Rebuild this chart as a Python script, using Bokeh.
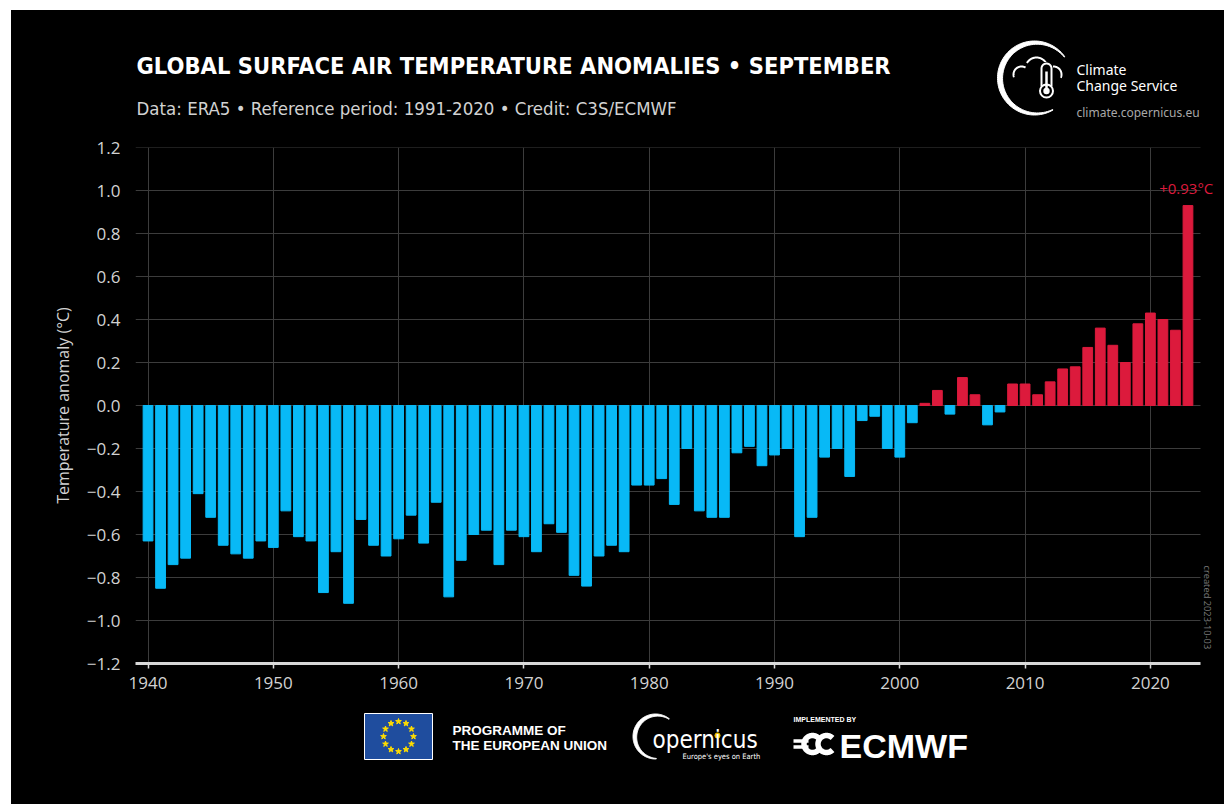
import numpy as np
from bokeh.plotting import figure
from bokeh.models import (Range1d, Label, FixedTicker, CustomJSTickFormatter,
                          Spacer, ColumnDataSource)
from bokeh.layouts import column, row
from bokeh.embed import file_html
from bokeh.resources import INLINE

# ---------------- data ----------------
years = list(range(1940, 2024))
anomalies = [
    -0.63, -0.85, -0.74, -0.71, -0.41, -0.52, -0.65, -0.69, -0.71, -0.63,   # 1940s
    -0.66, -0.49, -0.61, -0.63, -0.87, -0.68, -0.92, -0.53, -0.65, -0.70,   # 1950s
    -0.62, -0.51, -0.64, -0.45, -0.89, -0.72, -0.60, -0.58, -0.74, -0.58,   # 1960s
    -0.61, -0.68, -0.55, -0.59, -0.79, -0.84, -0.70, -0.65, -0.68, -0.37,   # 1970s
    -0.37, -0.34, -0.46, -0.20, -0.49, -0.52, -0.52, -0.22, -0.19, -0.28,   # 1980s
    -0.23, -0.20, -0.61, -0.52, -0.24, -0.20, -0.33, -0.07, -0.05, -0.20,   # 1990s
    -0.24, -0.08, 0.01, 0.07, -0.04, 0.13, 0.05, -0.09, -0.03, 0.10,        # 2000s
    0.10, 0.05, 0.11, 0.17, 0.18, 0.27, 0.36, 0.28, 0.20, 0.38,             # 2010s
    0.43, 0.40, 0.35, 0.93,                                                 # 2020s
]
x_ticks = [1940, 1950, 1960, 1970, 1980, 1990, 2000, 2010, 2020]
y_ticks = [-1.2, -1.0, -0.8, -0.6, -0.4, -0.2, 0.0, 0.2, 0.4, 0.6, 0.8, 1.0, 1.2]
x_span = [1939, 2024]

title_text = "GLOBAL SURFACE AIR TEMPERATURE ANOMALIES \u2022 SEPTEMBER"
subtitle_text = "Data: ERA5 \u2022 Reference period: 1991-2020 \u2022 Credit: C3S/ECMWF"
ylabel_text = "Temperature anomaly (\u00b0C)"
last_label = "+0.93\u00b0C"
created_text = "created  2023-10-03"

BLUE = "#08b9f6"
RED = "#dc1a3c"
TXT = "#d2d2d2"
GRID = "#3c3c3c"

W = 1213
X0, X1 = 11, 1224


def blank(height, y0, y1):
    f = figure(width=W, height=height, x_range=Range1d(X0, X1),
               y_range=Range1d(y1, y0), output_backend="svg",
               toolbar_location=None, x_axis_type=None, y_axis_type=None,
               min_border=0, background_fill_color="black",
               border_fill_color="black", outline_line_color=None)
    f.grid.visible = False
    f.frame_align = False
    return f


def txt(fig, x, y, text, size, font, color="white", style="normal", align="left"):
    fig.add_layout(Label(x=x, y=y, text=text, text_font=font, text_font_style=style,
                         text_font_size=size, text_color=color,
                         text_baseline="middle", text_align=align))


def arc_pts(cx, cy, r, a0, a1, n=60):
    th = np.radians(np.linspace(a0, a1, n))
    return list(cx + r * np.cos(th)), list(cy - r * np.sin(th))


def crescent(cx, cy, r, a0, a1, tmax, n=90):
    th = np.radians(np.linspace(a0, a1, n))
    t = tmax * np.sin(np.pi * (th - th[0]) / (th[-1] - th[0])) + 0.6
    xo = cx + r * np.cos(th)
    yo = cy - r * np.sin(th)
    xi = cx + (r - t) * np.cos(th)
    yi = cy - (r - t) * np.sin(th)
    return list(np.concatenate([xo, xi[::-1]])), list(np.concatenate([yo, yi[::-1]]))


# ---------------- header ----------------
hdr = blank(118, 10, 128)
txt(hdr, 136, 65, title_text, "23.5px", "DejaVu Sans Condensed", style="bold")
txt(hdr, 136, 107.5, subtitle_text, "18.5px", "DejaVu Sans Condensed", color=TXT)
# C3S logo
cx, cy = crescent(1034, 77.5, 37, 35, 300, 4.5)
hdr.patch(cx, cy, color="white")
c1 = arc_pts(1021, 74, 8, 200, 60)
c2 = arc_pts(1036, 68, 11, 150, 20)
c3 = arc_pts(1053, 74, 8, 110, -25)
hdr.multi_line(xs=[c1[0], c2[0], c3[0]], ys=[c1[1], c2[1], c3[1]],
               line_color="white", line_width=2)
hdr.quad(left=1040, right=1052, top=62, bottom=92, color="black")
ta = arc_pts(1046, 68, 5, 180, 0, 20)
hdr.line(x=[1041] + ta[0] + [1051], y=[86] + ta[1] + [86], line_color="white", line_width=2)
hdr.circle(x=[1046], y=[90.5], radius=6.5, fill_color="black", line_color="white", line_width=2)
hdr.line(x=[1046, 1046], y=[71, 89], line_color="white", line_width=2.5)
hdr.circle(x=[1046], y=[90.5], radius=3.2, fill_color="white", line_color=None)
txt(hdr, 1076, 68.5, "Climate", "14px", "Noto Sans")
txt(hdr, 1076, 84.5, "Change Service", "14px", "Noto Sans")
txt(hdr, 1076, 111.5, "climate.copernicus.eu", "12px", "Noto Sans", color="#a8a8a8")

# ---------------- main chart ----------------
colors = [RED if v >= 0 else BLUE for v in anomalies]
src = ColumnDataSource(dict(x=years, top=anomalies, color=colors))

# frame runs from x=135 to the right edge of the page; one year = 1065/85 px
x_end = x_span[0] + (X1 - 135) * (x_span[1] - x_span[0]) / 1065.0
p = figure(width=W, height=575, x_range=Range1d(x_span[0], x_end), y_range=Range1d(-1.2, 1.2),
           output_backend="svg", toolbar_location=None,
           min_border_left=124, min_border_right=0, min_border_top=19, min_border_bottom=40,
           background_fill_color="black", border_fill_color="black", outline_line_color=None)
p.frame_align = False

p.xgrid.ticker = FixedTicker(ticks=x_ticks)
p.xgrid.grid_line_color = GRID
p.xgrid.grid_line_width = 1
p.ygrid.visible = False
p.segment(x0=x_span[0], x1=x_span[1], y0=y_ticks, y1=y_ticks, line_color=GRID, line_width=1)

p.vbar(x="x", top="top", bottom=0, width=0.78, color="color", source=src)

p.xaxis.ticker = FixedTicker(ticks=x_ticks)
p.yaxis.ticker = FixedTicker(ticks=y_ticks)
p.xaxis.bounds = (x_span[0], x_span[1])

p.yaxis.formatter = CustomJSTickFormatter(code="""
    const v = Math.round(tick * 10) / 10;
    return (v < 0 ? '\u2212' : '') + Math.abs(v).toFixed(1);
""")

p.xaxis.axis_line_color = "#d8d8d8"
p.xaxis.axis_line_width = 3
p.xaxis.major_tick_line_color = "#d8d8d8"
p.xaxis.major_tick_line_width = 1.5
p.xaxis.major_tick_out = 5
p.xaxis.major_tick_in = 0
p.xaxis.minor_tick_line_color = None
p.xaxis.major_label_standoff = 8
p.xaxis.major_label_text_font = "Open Sans"
p.xaxis.major_label_text_font_size = "17px"
p.xaxis.major_label_text_color = TXT

p.yaxis.axis_line_color = None
p.yaxis.major_tick_line_color = None
p.yaxis.minor_tick_line_color = None
p.yaxis.major_tick_out = 0
p.yaxis.major_tick_in = 0
p.yaxis.major_label_standoff = 15
p.yaxis.major_label_text_font = "Open Sans"
p.yaxis.major_label_text_font_size = "17px"
p.yaxis.major_label_text_color = TXT
p.yaxis.axis_label = ylabel_text
p.yaxis.axis_label_text_font = "Open Sans"
p.yaxis.axis_label_text_font_style = "normal"
p.yaxis.axis_label_text_font_size = "16px"
p.yaxis.axis_label_text_color = TXT
p.yaxis.axis_label_standoff = 10

p.add_layout(Label(x=2020.7, y=1.01, text=last_label, text_font="Open Sans",
                   text_font_size="15px", text_color=RED,
                   text_baseline="middle", text_align="left"))
p.add_layout(Label(x=2024.52, y=-0.744, text=created_text, text_font="Open Sans",
                   text_font_size="9.3px", text_color="#7a7a7a", angle=-np.pi / 2,
                   text_baseline="middle", text_align="left"))

# ---------------- footer ----------------
ftr = blank(101, 703, 804)
ftr.quad(left=364, right=432, top=713, bottom=759, fill_color="#1f4d9e",
         line_color="white", line_width=1)
ang = np.radians(np.arange(0, 360, 30))
ftr.scatter(x=list(398 + 15 * np.cos(ang)), y=list(736 + 15 * np.sin(ang)),
            marker="star", size=6, color="#ffdd00")
txt(ftr, 452, 729.5, "PROGRAMME OF", "13.5px", "Liberation Sans", style="bold")
txt(ftr, 452, 744.5, "THE EUROPEAN UNION", "13.5px", "Liberation Sans", style="bold")
# Copernicus
kx, ky = crescent(655, 736, 22.5, 52, 272, 3.2)
ftr.patch(kx, ky, color="white")
txt(ftr, 652, 739.5, "opernicus", "24px", "DejaVu Sans Condensed")
ftr.circle(x=[717], y=[735], radius=2.6, color="#f2c200")
txt(ftr, 682, 756, "Europe's eyes on Earth", "7.5px", "DejaVu Sans Condensed")
# ECMWF
txt(ftr, 793, 719, "IMPLEMENTED BY", "7px", "Liberation Sans", style="bold")
e1 = arc_pts(812, 743.5, 8.5, 45, 315)
e2 = arc_pts(826, 743.5, 8.5, 45, 315)
ftr.multi_line(xs=[e1[0], e2[0]], ys=[e1[1], e2[1]], line_color="white", line_width=5.5)
ftr.multi_line(xs=[[793, 808], [793, 808]], ys=[[740.5, 740.5], [746.5, 746.5]],
               line_color="white", line_width=3.5)
txt(ftr, 839, 745, "ECMWF", "34px", "Liberation Sans", style="bold")

panel = column(hdr, p, ftr, styles={"background-color": "black"})
layout = row(Spacer(width=11), column(Spacer(height=10), panel))
open("out.html", "w").write(file_html(layout, INLINE))
